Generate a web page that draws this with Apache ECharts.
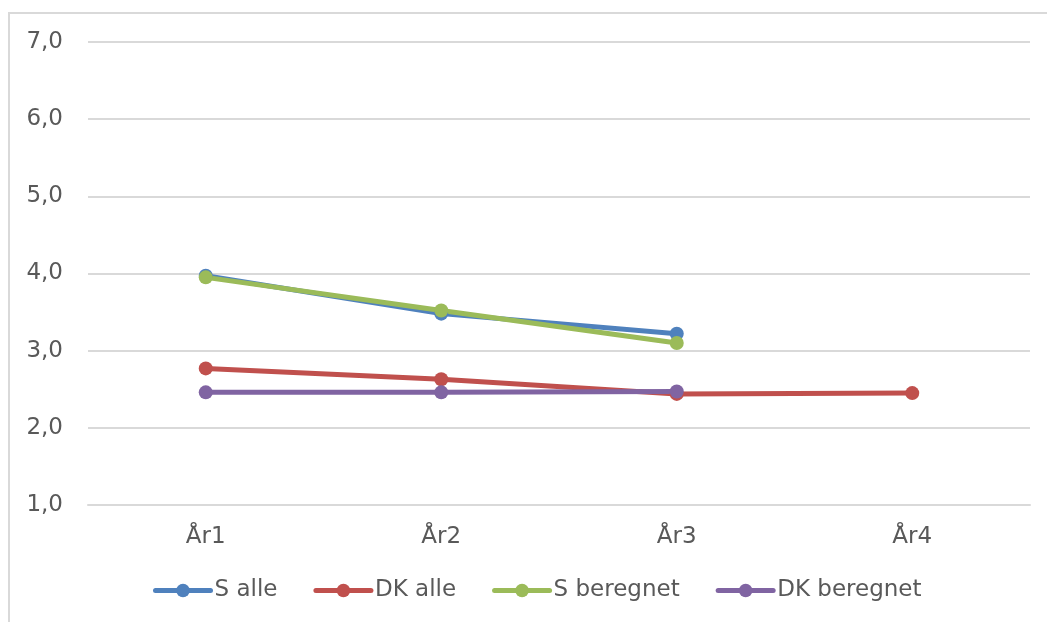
<!DOCTYPE html>
<html>
<head>
<meta charset="utf-8">
<script src="https://cdn.jsdelivr.net/npm/echarts@6/dist/echarts.min.js"></script>
<style>
  html, body { margin: 0; padding: 0; background: #fff; overflow: hidden; }
  #frame { position: absolute; left: 8px; top: 12px; width: 1100px; height: 700px; border: 2px solid #d9d9d9; box-sizing: border-box; }
  #main { position: absolute; left: 0; top: 0; width: 1047px; height: 622px; }
</style>
</head>
<body>
<div id="frame"></div>
<div id="main"></div>
<script>
var categories = ['År1', 'År2', 'År3', 'År4'];
var sAlle = [3.97, 3.48, 3.22, null];
var dkAlle = [2.77, 2.63, 2.44, 2.45];
var sBeregnet = [3.95, 3.52, 3.10, null];
var dkBeregnet = [2.46, 2.46, 2.47, null];

var names = ['S alle', 'DK alle', 'S beregnet', 'DK beregnet'];
var colors = ['#4f81bd', '#c0504d', '#9bbb59', '#8064a2'];
var values = [sAlle, dkAlle, sBeregnet, dkBeregnet];

var chart = echarts.init(document.getElementById('main'));

var series = [];
for (var i = 0; i < names.length; i++) {
  series.push({
    name: names[i],
    type: 'line',
    data: values[i],
    symbol: 'circle',
    symbolSize: 14,
    lineStyle: { width: 5, color: colors[i], cap: 'round' },
    itemStyle: { color: colors[i] },
    emphasis: { disabled: true }
  });
}

var option = {
  animation: false,
  textStyle: { fontFamily: 'DejaVu Sans' },
  grid: { left: 88, right: 17, top: 42, bottom: 117 },
  legend: {
    left: 148,
    top: 574,
    itemWidth: 55,
    itemHeight: 17,
    itemGap: 36,
    lineStyle: { width: 5 },
    textStyle: { fontSize: 23, color: '#595959', fontFamily: 'DejaVu Sans', padding: [0, 0, 0, -1] },
    data: names
  },
  xAxis: {
    type: 'category',
    data: categories,
    boundaryGap: true,
    axisLine: { lineStyle: { color: '#d9d9d9', width: 2 } },
    axisTick: { show: false },
    axisLabel: { fontSize: 23, color: '#595959', margin: 21 }
  },
  yAxis: {
    type: 'value',
    min: 1,
    max: 7,
    interval: 1,
    axisLine: { show: false },
    axisTick: { show: false },
    splitLine: { lineStyle: { color: '#d9d9d9', width: 2 } },
    axisLabel: {
      fontSize: 23,
      color: '#595959',
      margin: 25,
      formatter: function (v) { return v.toFixed(1).replace('.', ','); }
    }
  },
  series: series
};

chart.setOption(option);
</script>
</body>
</html>
